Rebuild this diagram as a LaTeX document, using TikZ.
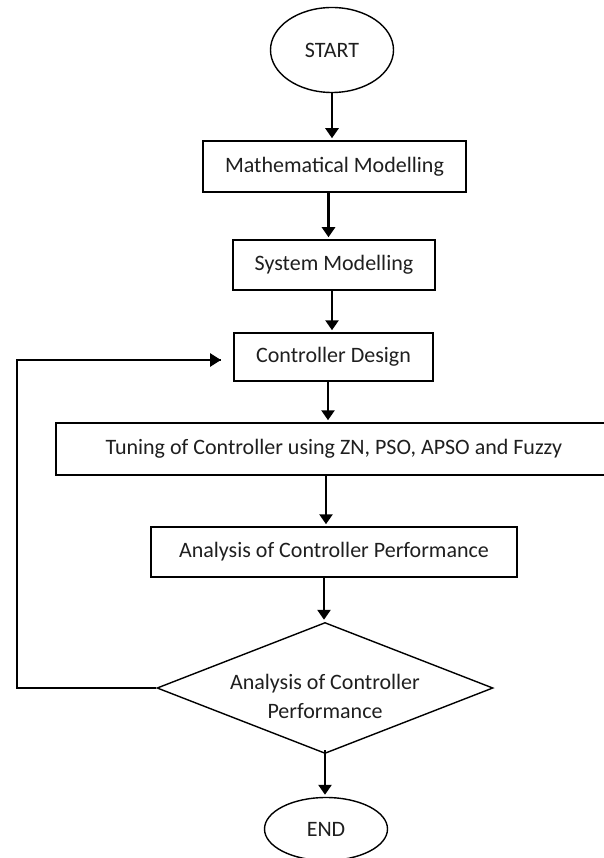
\documentclass[tikz,border=0pt]{standalone}
\usepackage{fontspec}
\setmainfont{Carlito}
\usetikzlibrary{shapes.geometric,arrows.meta}
\begin{document}
\begin{tikzpicture}[x=1pt,y=-1pt,
  txt/.style={font=\fontsize{22}{29}\selectfont, text=black!88},
  boxnode/.style={txt, draw=black, line width=1.5pt, fill=white, inner sep=0pt, rectangle},
  ovalnode/.style={txt, draw=black, line width=1.4pt, ellipse, inner sep=0pt},
  decnode/.style={draw=black, line width=1.4pt, diamond, inner sep=0pt},
  arr/.style={line width=2.8pt, -{Triangle[width=13pt,length=10pt]}, shorten >=2pt},
  fb/.style={line width=2.8pt, -{Triangle[width=13pt,length=11pt]}}
]
\useasboundingbox (0,0) rectangle (603,858);
\node[ovalnode, minimum width=123pt, minimum height=85pt] (start) at (332,50) {START};
\node[boxnode, minimum width=263pt, minimum height=51pt] (math) at (334.5,166.5) {Mathematical Modelling};
\node[boxnode, minimum width=202pt, minimum height=50pt] (sys) at (334,265) {System Modelling};
\node[boxnode, minimum width=199pt, minimum height=48pt] (ctrl) at (333.5,357) {Controller Design};
\node[boxnode, minimum width=556pt, minimum height=52pt] (tune) at (334,449) {Tuning of Controller using ZN, PSO, APSO and Fuzzy};
\node[boxnode, minimum width=366pt, minimum height=50pt] (anal) at (334,552) {Analysis of Controller Performance};
\node[decnode, minimum width=336pt, minimum height=131pt] (dec) at (325,688) {};
\node[txt, align=center, inner sep=0pt] (dectext) at (325,696) {Analysis of Controller\\Performance};
\node[ovalnode, minimum width=123pt, minimum height=63pt] (end) at (326,829) {END};
\coordinate (fbl) at (17,688);
\coordinate (fbt) at (17,360);
\coordinate (fbe) at (221,360);

\draw[arr] (start.south) -- (start.south |- math.north);
\draw[arr] ([xshift=-6pt]math.south) -- ([xshift=-6pt]math.south |- sys.north);
\draw[arr] ([xshift=-2pt]sys.south) -- ([xshift=-2pt]sys.south |- ctrl.north);
\draw[arr] ([xshift=-5.5pt]ctrl.south) -- ([xshift=-5.5pt]ctrl.south |- tune.north);
\draw[arr] ([xshift=-8pt]tune.south) -- ([xshift=-8pt]tune.south |- anal.north);
\draw[arr] ([xshift=-10pt]anal.south) -- ([xshift=-10pt]anal.south |- dec.north);
\draw[arr] ([yshift=4pt]dec.south) -- (dec.south |- end.north);
\draw[line width=2.8pt, line join=miter] (dec.west) -- (fbl) -- (fbt) -- (fbe);
\draw[fb] (fbt) -- (fbe);
\end{tikzpicture}
\end{document}
